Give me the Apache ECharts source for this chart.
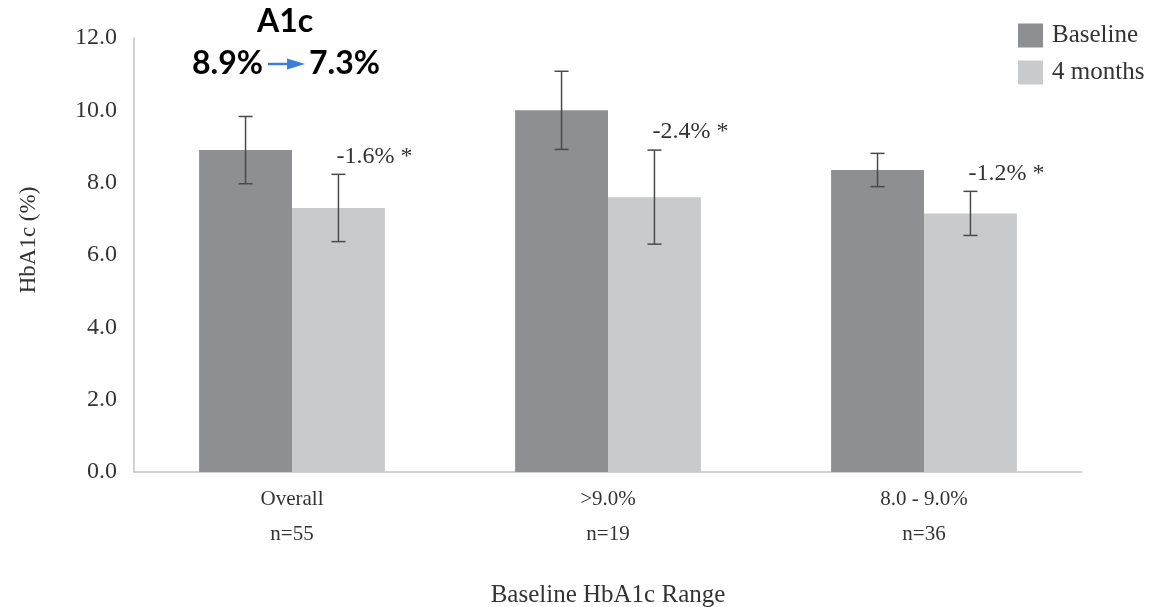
<!DOCTYPE html>
<html><head><meta charset="utf-8">
<script src="https://cdn.jsdelivr.net/npm/echarts@6/dist/echarts.min.js"></script>
<style>html,body{margin:0;padding:0;background:#fff}#c{width:1151px;height:607px}</style>
</head><body><div id="c"></div>
<script>
const categories = ['Overall\nn=55', '>9.0%\nn=19', '8.0 - 9.0%\nn=36'];
const seriesNames = ['Baseline', '4 months'];
const baseline = [8.9, 10.0, 8.35];
const fourMonths = [7.3, 7.6, 7.15];
const baselineErr = [0.93, 1.08, 0.46];
const fourMonthsErr = [0.93, 1.3, 0.61];
const changeLabels = ['-1.6% *', '-2.4% *', '-1.2% *'];
const yTicks = [0, 2, 4, 6, 8, 10, 12];

const SERIF = '"Liberation Serif", "DejaVu Serif", serif';
const BOLD = 'bold 32px Lato, "Open Sans", sans-serif';
const BAR_FRAC = 0.294;
const colors = ['#8e8f93', '#c9cacc'];

function errRender(values, errs, side, withLabel) {
  return function (params, api) {
    const i = params.dataIndex;
    const band = api.size([1, 0])[0];
    const bw = band * BAR_FRAC;
    const c = api.coord([i, values[i]]);
    const x = c[0] + side * bw / 2;
    const top = api.coord([i, values[i] + errs[i]])[1];
    const bot = api.coord([i, values[i] - errs[i]])[1];
    const st = { stroke: '#4a4a4a', lineWidth: 1.5 };
    const children = [
      { type: 'line', shape: { x1: x, y1: top, x2: x, y2: bot }, style: st },
      { type: 'line', shape: { x1: x - 7, y1: top, x2: x + 7, y2: top }, style: st },
      { type: 'line', shape: { x1: x - 7, y1: bot, x2: x + 7, y2: bot }, style: st }
    ];
    if (withLabel) {
      children.push({ type: 'text', style: { x: x - 2, y: top - 18, text: changeLabels[i], font: '24px ' + SERIF, fill: '#333', verticalAlign: 'middle', align: 'left' } });
    }
    return { type: 'group', children };
  };
}

const chart = echarts.init(document.getElementById('c'));
chart.setOption({
  animation: false,
  grid: { left: 134, right: 69, top: 38, bottom: 135, containLabel: false, outerBoundsMode: 'none' },
  legend: {
    orient: 'vertical', left: 1013, top: 18, itemWidth: 25, itemHeight: 24, itemGap: 12,
    icon: 'rect', data: seriesNames,
    textStyle: { fontFamily: SERIF, fontSize: 25, color: '#333', padding: [0, 0, 0, 4] }
  },
  xAxis: {
    type: 'category', data: categories,
    axisLine: { lineStyle: { color: '#c4c4c4', width: 1.5 } },
    axisTick: { show: false },
    axisLabel: { fontFamily: SERIF, fontSize: 21, color: '#333', lineHeight: 35, margin: 10 },
    name: 'Baseline HbA1c Range', nameLocation: 'middle', nameGap: 111,
    nameTextStyle: { fontFamily: SERIF, fontSize: 25, color: '#333' }
  },
  yAxis: {
    type: 'value', min: 0, max: 12, interval: 2,
    axisLine: { show: true, lineStyle: { color: '#c4c4c4', width: 1.5 } },
    axisTick: { show: false },
    splitLine: { show: false },
    axisLabel: { fontFamily: SERIF, fontSize: 24, color: '#333', margin: 17, formatter: v => v.toFixed(1) },
    name: 'HbA1c (%)', nameLocation: 'middle', nameGap: 94, nameRotate: 90,
    nameTextStyle: { fontFamily: SERIF, fontSize: 23, color: '#333', padding: [0, 0, 0, 30] }
  },
  series: [
    { name: seriesNames[0], type: 'bar', data: baseline, barWidth: (BAR_FRAC * 100) + '%', barGap: '0%', itemStyle: { color: colors[0] } },
    { name: seriesNames[1], type: 'bar', data: fourMonths, barWidth: (BAR_FRAC * 100) + '%', barGap: '0%', itemStyle: { color: colors[1] } },
    { type: 'custom', data: baseline.map((v, i) => [i, v]), renderItem: errRender(baseline, baselineErr, -1, false), z: 10, silent: true },
    { type: 'custom', data: fourMonths.map((v, i) => [i, v]), renderItem: errRender(fourMonths, fourMonthsErr, 1, true), z: 10, silent: true }
  ],
  graphic: [
    { type: 'text', left: 257, top: 6, style: { text: 'A1c', font: BOLD, fill: '#000' } },
    { type: 'text', left: 192, top: 48, style: { text: '8.9%', font: BOLD, fill: '#000' } },
    { type: 'text', left: 309, top: 48, style: { text: '7.3%', font: BOLD, fill: '#000' } },
    { type: 'line', shape: { x1: 268, y1: 64, x2: 290, y2: 64 }, style: { stroke: '#3c7fd9', lineWidth: 2.5 } },
    { type: 'polygon', shape: { points: [[287, 58.5], [305, 64], [287, 69.5]] }, style: { fill: '#3c7fd9' } }
  ]
});
</script></body></html>
